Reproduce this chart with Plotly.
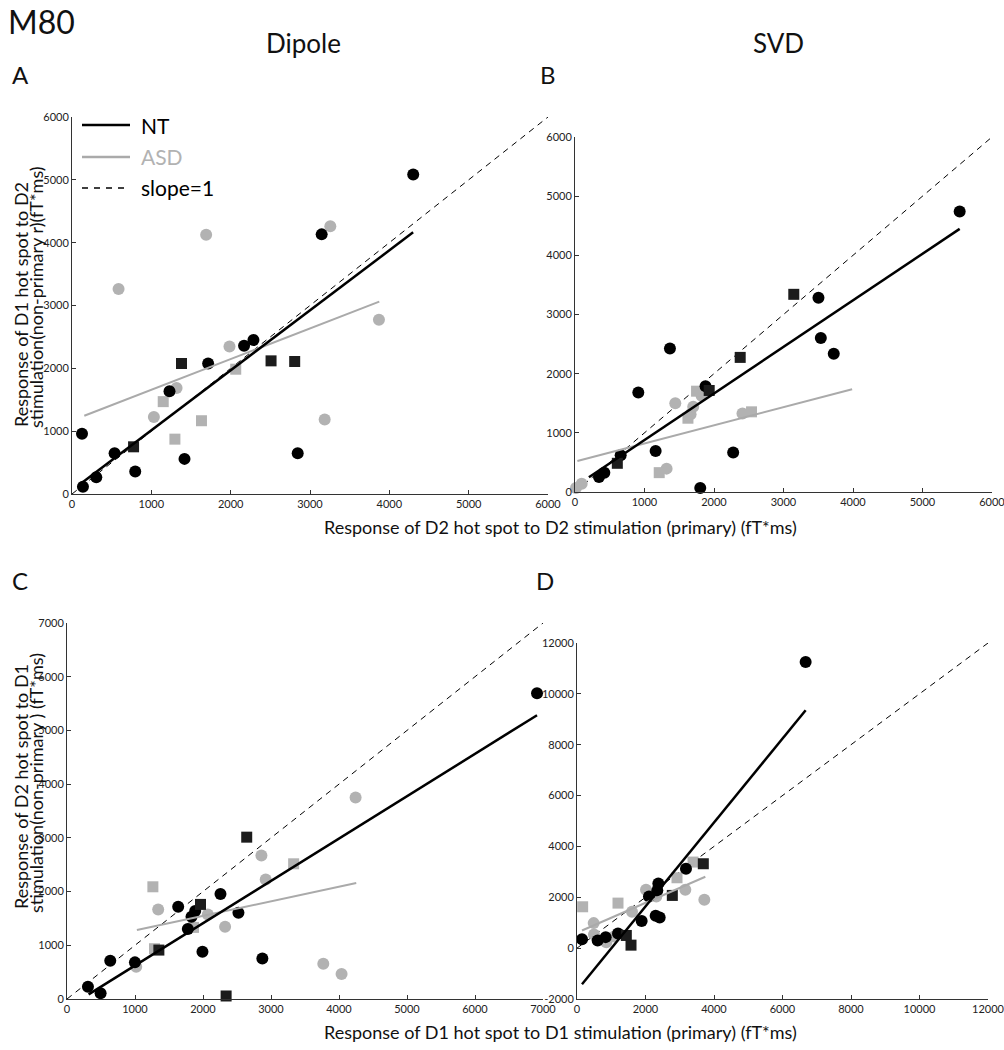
import plotly.graph_objects as go

# ---------------- DATA ----------------
# Panel A (Dipole, D2 stimulation)
A_nt_circ_x = [126, 138, 306, 537, 797, 1229, 1418, 1716, 2169, 2287, 2845, 3147, 4301]
A_nt_circ_y = [958, 117, 266, 650, 357, 1635, 559, 2077, 2359, 2450, 650, 4132, 5085]
A_nt_sq_x = [776, 1380, 2509, 2807]
A_nt_sq_y = [751, 2077, 2119, 2109]
A_asd_circ_x = [587, 1032, 1318, 1691, 1985, 3185, 3256, 3869]
A_asd_circ_y = [3264, 1225, 1688, 4127, 2348, 1187, 4260, 2774]
A_asd_sq_x = [1150, 1297, 1632, 2064]
A_asd_sq_y = [1470, 873, 1166, 1986]
A_nt_fit_x = [126, 4300]
A_nt_fit_y = [181, 4164]
A_asd_fit_x = [155, 3873]
A_asd_fit_y = [1246, 3062]

# Panel B (SVD, D2 stimulation)
B_nt_circ_x = [345, 422, 657, 911, 1160, 1366, 1802, 1878, 2276, 3503, 3537, 3723, 5535]
B_nt_circ_y = [254, 327, 621, 1682, 694, 2427, 68, 1789, 666, 3285, 2602, 2337, 4741]
B_nt_sq_x = [609, 1931, 2377, 3148]
B_nt_sq_y = [485, 1716, 2275, 3341]
B_asd_circ_x = [14, 96, 1318, 1443, 1663, 1701, 1821, 2410]
B_asd_circ_y = [68, 141, 395, 1501, 1315, 1439, 1625, 1326]
B_asd_sq_x = [1212, 1625, 1749, 2540]
B_asd_sq_y = [327, 1247, 1704, 1355]
B_nt_fit_x = [200, 5535]
B_nt_fit_y = [250, 4447]
B_asd_fit_x = [34, 3987]
B_asd_fit_y = [525, 1738]

# Panel C (Dipole, D1 stimulation)
C_nt_circ_x = [308, 494, 636, 999, 1635, 1777, 1831, 1885, 1992, 2257, 2521, 2873, 6912]
C_nt_circ_y = [229, 105, 713, 682, 1717, 1302, 1531, 1637, 880, 1953, 1606, 756, 5692]
C_nt_sq_x = [1351, 1963, 2340, 2643]
C_nt_sq_y = [911, 1761, 56, 3013]
C_asd_circ_x = [1018, 1341, 2071, 2325, 2859, 2922, 3769, 4038, 4244]
C_asd_circ_y = [601, 1668, 1575, 1345, 2672, 2226, 657, 465, 3751]
C_asd_sq_x = [1263, 1287, 1860, 3333]
C_asd_sq_y = [2089, 936, 1333, 2517]
C_nt_fit_x = [318, 6912]
C_nt_fit_y = [87, 5282]
C_asd_fit_x = [1028, 4254]
C_asd_fit_y = [1283, 2158]

# Panel D (SVD, D1 stimulation)
D_nt_circ_x = [146, 603, 837, 1197, 1888, 2102, 2297, 2414, 2375, 2345, 3182, 6676]
D_nt_circ_y = [354, 302, 433, 577, 1063, 2034, 1273, 1207, 2545, 2270, 3123, 11257]
D_nt_sq_x = [1440, 1577, 2783, 3688]
D_nt_sq_y = [499, 118, 2073, 3319]
D_asd_circ_x = [487, 496, 856, 1090, 1606, 2015, 2316, 3163, 3718]
D_asd_circ_y = [984, 538, 236, 459, 1430, 2296, 2034, 2296, 1902]
D_asd_sq_x = [165, 1197, 2920, 3387]
D_asd_sq_y = [1627, 1771, 2768, 3385]
D_nt_fit_x = [146, 6676]
D_nt_fit_y = [-1417, 9355]
D_asd_fit_x = [146, 3747]
D_asd_fit_y = [695, 2808]

# axis ranges and ticks
A_range = [0, 6000]
B_range = [0, 6000]
C_range = [0, 7000]
D_xrange = [0, 12000]
D_yrange = [-2000, 12000]
A_ticks = [0, 1000, 2000, 3000, 4000, 5000, 6000]
C_ticks = [0, 1000, 2000, 3000, 4000, 5000, 6000, 7000]
D_xticks = [0, 2000, 4000, 6000, 8000, 10000, 12000]
D_yticks = [-2000, 0, 2000, 4000, 6000, 8000, 10000, 12000]

# ---------------- STYLE ----------------
W, H = 1004, 1050
FONT = "Lato"
BLACK = "#000000"
SQBLACK = "#1c1c1c"
GRAY = "#b2b2b2"
GRAYLINE = "#aaaaaa"


def px(x):
    return x / W


def py(y):
    return 1 - y / H


fig = go.Figure()

panels = [
    ("x", "y", A_nt_circ_x, A_nt_circ_y, A_nt_sq_x, A_nt_sq_y, A_asd_circ_x, A_asd_circ_y,
     A_asd_sq_x, A_asd_sq_y, A_nt_fit_x, A_nt_fit_y, A_asd_fit_x, A_asd_fit_y, A_range[1]),
    ("x2", "y2", B_nt_circ_x, B_nt_circ_y, B_nt_sq_x, B_nt_sq_y, B_asd_circ_x, B_asd_circ_y,
     B_asd_sq_x, B_asd_sq_y, B_nt_fit_x, B_nt_fit_y, B_asd_fit_x, B_asd_fit_y, B_range[1]),
    ("x3", "y3", C_nt_circ_x, C_nt_circ_y, C_nt_sq_x, C_nt_sq_y, C_asd_circ_x, C_asd_circ_y,
     C_asd_sq_x, C_asd_sq_y, C_nt_fit_x, C_nt_fit_y, C_asd_fit_x, C_asd_fit_y, C_range[1]),
    ("x4", "y4", D_nt_circ_x, D_nt_circ_y, D_nt_sq_x, D_nt_sq_y, D_asd_circ_x, D_asd_circ_y,
     D_asd_sq_x, D_asd_sq_y, D_nt_fit_x, D_nt_fit_y, D_asd_fit_x, D_asd_fit_y, D_xrange[1]),
]

for (xa, ya, ncx, ncy, nsx, nsy, acx, acy, asx, asy, nfx, nfy, afx, afy, lim) in panels:
    # slope = 1 reference line
    fig.add_trace(go.Scatter(x=[0, lim], y=[0, lim], mode="lines", xaxis=xa, yaxis=ya,
                             line=dict(color=BLACK, width=1, dash="6px,5px"),
                             showlegend=False, hoverinfo="skip", cliponaxis=False))
    fig.add_trace(go.Scatter(x=acx, y=acy, mode="markers", xaxis=xa, yaxis=ya,
                             marker=dict(symbol="circle", size=12, color=GRAY, line=dict(width=0)),
                             showlegend=False, cliponaxis=False))
    fig.add_trace(go.Scatter(x=asx, y=asy, mode="markers", xaxis=xa, yaxis=ya,
                             marker=dict(symbol="square", size=11, color=GRAY, line=dict(width=0)),
                             showlegend=False, cliponaxis=False))
    fig.add_trace(go.Scatter(x=ncx, y=ncy, mode="markers", xaxis=xa, yaxis=ya,
                             marker=dict(symbol="circle", size=12, color=BLACK, line=dict(width=0)),
                             showlegend=False, cliponaxis=False))
    fig.add_trace(go.Scatter(x=nsx, y=nsy, mode="markers", xaxis=xa, yaxis=ya,
                             marker=dict(symbol="square", size=11, color=SQBLACK, line=dict(width=0)),
                             showlegend=False, cliponaxis=False))
    fig.add_trace(go.Scatter(x=afx, y=afy, mode="lines", xaxis=xa, yaxis=ya,
                             line=dict(color=GRAYLINE, width=2),
                             showlegend=False, hoverinfo="skip", cliponaxis=False))
    fig.add_trace(go.Scatter(x=nfx, y=nfy, mode="lines", xaxis=xa, yaxis=ya,
                             line=dict(color=BLACK, width=2.5),
                             showlegend=False, hoverinfo="skip", cliponaxis=False))


def axstyle(dom, rng, ticks, anchor):
    return dict(domain=dom, range=rng, tickvals=ticks, ticktext=[str(t) for t in ticks],
                showgrid=False, zeroline=False, showline=True, linecolor="#333333", linewidth=1,
                ticks="inside", ticklen=4, tickcolor="#333333", anchor=anchor, automargin=False,
                ticklabeloverflow="allow",
                tickfont=dict(family=FONT, size=11, color="#222222"), fixedrange=True)


fig.update_layout(
    xaxis=axstyle([px(72), px(548)], A_range, A_ticks, "y"),
    yaxis=axstyle([py(494), py(117)], A_range, A_ticks, "x"),
    xaxis2=axstyle([px(575), px(992)], B_range, A_ticks, "y2"),
    yaxis2=axstyle([py(492), py(137)], B_range, A_ticks, "x2"),
    xaxis3=axstyle([px(67), px(543)], C_range, C_ticks, "y3"),
    yaxis3=axstyle([py(999), py(623)], C_range, C_ticks, "x3"),
    xaxis4=axstyle([px(577), px(988)], D_xrange, D_xticks, "y4"),
    yaxis4=axstyle([py(999), py(643)], D_yrange, D_yticks, "x4"),
)


def ann(text, x, y, size, color="#111111", angle=0, xanchor="center", yanchor="middle"):
    fig.add_annotation(text=text, x=px(x), y=py(y), xref="paper", yref="paper",
                       showarrow=False, textangle=angle, xanchor=xanchor, yanchor=yanchor,
                       font=dict(family=FONT, size=size, color=color))


# titles and panel letters
ann("M80", 6, 0, 32, xanchor="left", yanchor="top")
ann("Dipole", 303, 43, 26)
ann("SVD", 778, 43, 26)
ann("A", 20, 74, 24)
ann("B", 548, 74, 24)
ann("C", 20, 580, 24)
ann("D", 545, 580, 24)

# axis titles
ann("Response of D2 hot spot to D2 stimulation (primary) (fT*ms)", 560, 527, 18)
ann("Response of D1 hot spot to D1 stimulation (primary) (fT*ms)", 560, 1032, 18)
ann("Response of D1 hot spot to D2", 21, 305, 18, angle=-90)
ann("stimulation(non-primary r)(fT*ms)", 36, 297, 18, angle=-90)
ann("Response of D2 hot spot to D1", 21, 787, 18, angle=-90)
ann("stimulation(non-primary ) (fT*ms)", 36, 783, 18, angle=-90)

# legend (panel A)
legend_items = [("NT", BLACK, "solid", 2.5, 125), ("ASD", GRAYLINE, "solid", 2.5, 157),
                ("slope=1", BLACK, "6px,6px", 1.5, 188)]
for label, col, dash, wd, yy in legend_items:
    fig.add_shape(type="line", xref="paper", yref="paper", x0=px(82), x1=px(130),
                  y0=py(yy), y1=py(yy), line=dict(color=col, width=wd, dash=dash))
    ann(label, 139, yy, 21, color=(GRAY if label == "ASD" else "#000000"), xanchor="left")

fig.update_layout(width=W, height=H, margin=dict(l=0, r=0, t=0, b=0),
                  paper_bgcolor="white", plot_bgcolor="white", showlegend=False)

fig.write_html("out.html", config={"displayModeBar": False},
               post_script="document.body.style.margin='0';document.body.style.overflow='hidden';")
